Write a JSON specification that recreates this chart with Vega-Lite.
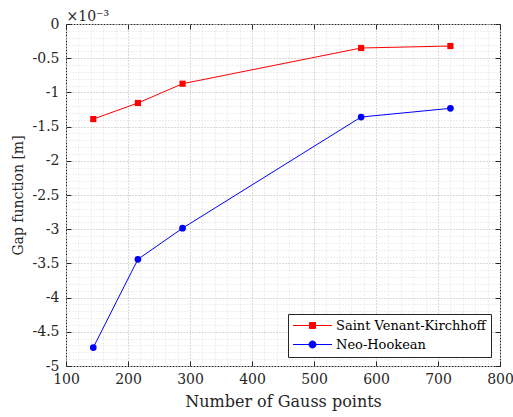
{
  "$schema": "https://vega.github.io/schema/vega-lite/v6.json",
  "width": 434,
  "height": 342,
  "autosize": {"type": "none"},
  "padding": {"left": 66, "top": 24, "right": 13, "bottom": 51},
  "background": "white",
  "config": {
    "view": {"stroke": "#262626", "strokeWidth": 1},
    "font": "DejaVu Serif",
    "axis": {
      "labelFont": "DejaVu Serif",
      "titleFont": "DejaVu Serif",
      "labelFontSize": 14,
      "titleFontSize": 15,
      "labelColor": "#262626",
      "titleColor": "#262626",
      "titleFontWeight": "normal",
      "domain": false,
      "labelFlush": false,
      "tickColor": "#262626"
    },
    "legend": {
      "orient": "bottom-right",
      "offset": 9,
      "strokeColor": "#262626",
      "fillColor": "white",
      "padding": 5,
      "labelFont": "DejaVu Serif",
      "labelFontSize": 13,
      "labelColor": "black",
      "rowPadding": 5,
      "symbolSize": 100,
      "symbolOffset": 13,
      "labelOffset": 17,
      "symbolStrokeWidth": 1
    }
  },
  "data": {
    "values": [
      {"model": "Saint Venant-Kirchhoff", "gauss": 144, "gap": -1.39},
      {"model": "Saint Venant-Kirchhoff", "gauss": 216, "gap": -1.155},
      {"model": "Saint Venant-Kirchhoff", "gauss": 288, "gap": -0.873},
      {"model": "Saint Venant-Kirchhoff", "gauss": 576, "gap": -0.351},
      {"model": "Saint Venant-Kirchhoff", "gauss": 720, "gap": -0.322},
      {"model": "Neo-Hookean", "gauss": 144, "gap": -4.73},
      {"model": "Neo-Hookean", "gauss": 216, "gap": -3.44},
      {"model": "Neo-Hookean", "gauss": 288, "gap": -2.985},
      {"model": "Neo-Hookean", "gauss": 576, "gap": -1.36},
      {"model": "Neo-Hookean", "gauss": 720, "gap": -1.233}
    ]
  },
  "layer": [
    {
      "mark": {"type": "line", "strokeWidth": 1},
      "encoding": {
        "x": {
          "field": "gauss", "type": "quantitative",
          "scale": {"domain": [100, 800], "nice": false, "zero": false},
          "axis": {
            "orient": "bottom",
            "values": [100,120,140,160,180,200,220,240,260,280,300,320,340,360,380,400,420,440,460,480,500,520,540,560,580,600,620,640,660,680,700,720,740,760,780,800],
            "grid": true, "gridDash": [1, 2], "gridColor": "#dedede", "gridWidth": 1,
            "labels": false, "ticks": false, "title": null
          }
        },
        "y": {
          "field": "gap", "type": "quantitative",
          "scale": {"domain": [-5, 0], "nice": false, "zero": false},
          "axis": {
            "orient": "left",
            "values": [-5,-4.9,-4.8,-4.7,-4.6,-4.5,-4.4,-4.3,-4.2,-4.1,-4,-3.9,-3.8,-3.7,-3.6,-3.5,-3.4,-3.3,-3.2,-3.1,-3,-2.9,-2.8,-2.7,-2.6,-2.5,-2.4,-2.3,-2.2,-2.1,-2,-1.9,-1.8,-1.7,-1.6,-1.5,-1.4,-1.3,-1.2,-1.1,-1,-0.9,-0.8,-0.7,-0.6,-0.5,-0.4,-0.3,-0.2,-0.1,0],
            "grid": true, "gridDash": [1, 2], "gridColor": "#dedede", "gridWidth": 1,
            "labels": false, "ticks": false,
            "title": "×10⁻³", "titleAngle": 0, "titleX": 0, "titleY": -4,
            "titleAlign": "left", "titleBaseline": "alphabetic", "titleFontSize": 14
          }
        },
        "color": {
          "field": "model", "type": "nominal",
          "scale": {"domain": ["Saint Venant-Kirchhoff", "Neo-Hookean"], "range": ["#ff0000", "#0000ff"]},
          "legend": {
            "title": null,
            "encode": {
              "symbols": {
                "update": {
                  "shape": {"signal": "datum.value === 'Neo-Hookean' ? 'M-3.9,0H3.9M0.7,0A0.7,0.7,0,1,1,-0.7,0A0.7,0.7,0,1,1,0.7,0Z' : 'M-3.9,0H3.9M-0.6,-0.6H0.6V0.6H-0.6Z'"},
                  "fill": {"signal": "datum.value === 'Neo-Hookean' ? '#0000ff' : '#ff0000'"},
                  "stroke": {"signal": "datum.value === 'Neo-Hookean' ? '#0000ff' : '#ff0000'"},
                  "strokeWidth": {"value": 1},
                  "opacity": {"value": 1},
                  "fillOpacity": {"value": 1}
                }
              }
            }
          }
        }
      }
    },
    {
      "transform": [{"filter": "datum.model === 'Saint Venant-Kirchhoff'"}],
      "mark": {"type": "point", "filled": true, "shape": "square", "size": 38, "opacity": 1},
      "encoding": {
        "x": {
          "field": "gauss", "type": "quantitative",
          "scale": {"domain": [100, 800], "nice": false, "zero": false},
          "axis": {
            "orient": "bottom",
            "values": [100, 200, 300, 400, 500, 600, 700, 800],
            "format": "d",
            "grid": true, "gridDash": [1, 2], "gridColor": "#c4c4c4", "gridWidth": 1,
            "ticks": false, "labelPadding": 6,
            "title": "Number of Gauss points", "titlePadding": 7, "titleFontSize": 16
          }
        },
        "y": {
          "field": "gap", "type": "quantitative",
          "scale": {"domain": [-5, 0], "nice": false, "zero": false},
          "axis": {
            "orient": "left",
            "values": [-5, -4.5, -4, -3.5, -3, -2.5, -2, -1.5, -1, -0.5, 0],
            "labelExpr": "datum.value == 0 ? '0' : '-' + format(-datum.value, '~g')",
            "grid": true, "gridDash": [1, 2], "gridColor": "#c4c4c4", "gridWidth": 1,
            "ticks": false, "labelPadding": 7,
            "title": "Gap function [m]", "titlePadding": 7, "titleFontSize": 14
          }
        },
        "color": {"field": "model", "type": "nominal"}
      }
    },
    {
      "transform": [{"filter": "datum.model === 'Neo-Hookean'"}],
      "mark": {"type": "point", "filled": true, "shape": "circle", "size": 45, "opacity": 1},
      "encoding": {
        "x": {
          "field": "gauss", "type": "quantitative",
          "scale": {"domain": [100, 800], "nice": false, "zero": false},
          "axis": {"orient": "bottom", "values": [100, 200, 300, 400, 500, 600, 700, 800], "grid": false, "labels": false, "ticks": true, "tickSize": -5, "title": null}
        },
        "y": {
          "field": "gap", "type": "quantitative",
          "scale": {"domain": [-5, 0], "nice": false, "zero": false},
          "axis": {"orient": "left", "values": [-5, -4.5, -4, -3.5, -3, -2.5, -2, -1.5, -1, -0.5, 0], "grid": false, "labels": false, "ticks": true, "tickSize": -5, "title": null}
        },
        "color": {"field": "model", "type": "nominal"}
      }
    },
    {
      "mark": {"type": "point", "opacity": 0},
      "encoding": {
        "x": {
          "field": "gauss", "type": "quantitative",
          "scale": {"domain": [100, 800], "nice": false, "zero": false},
          "axis": {"orient": "top", "values": [100, 200, 300, 400, 500, 600, 700, 800], "grid": false, "labels": false, "ticks": true, "tickSize": -5, "title": null}
        },
        "y": {
          "field": "gap", "type": "quantitative",
          "scale": {"domain": [-5, 0], "nice": false, "zero": false},
          "axis": {"orient": "right", "values": [-5, -4.5, -4, -3.5, -3, -2.5, -2, -1.5, -1, -0.5, 0], "grid": false, "labels": false, "ticks": true, "tickSize": -5, "title": null}
        }
      }
    }
  ],
  "resolve": {"axis": {"x": "independent", "y": "independent"}}
}
